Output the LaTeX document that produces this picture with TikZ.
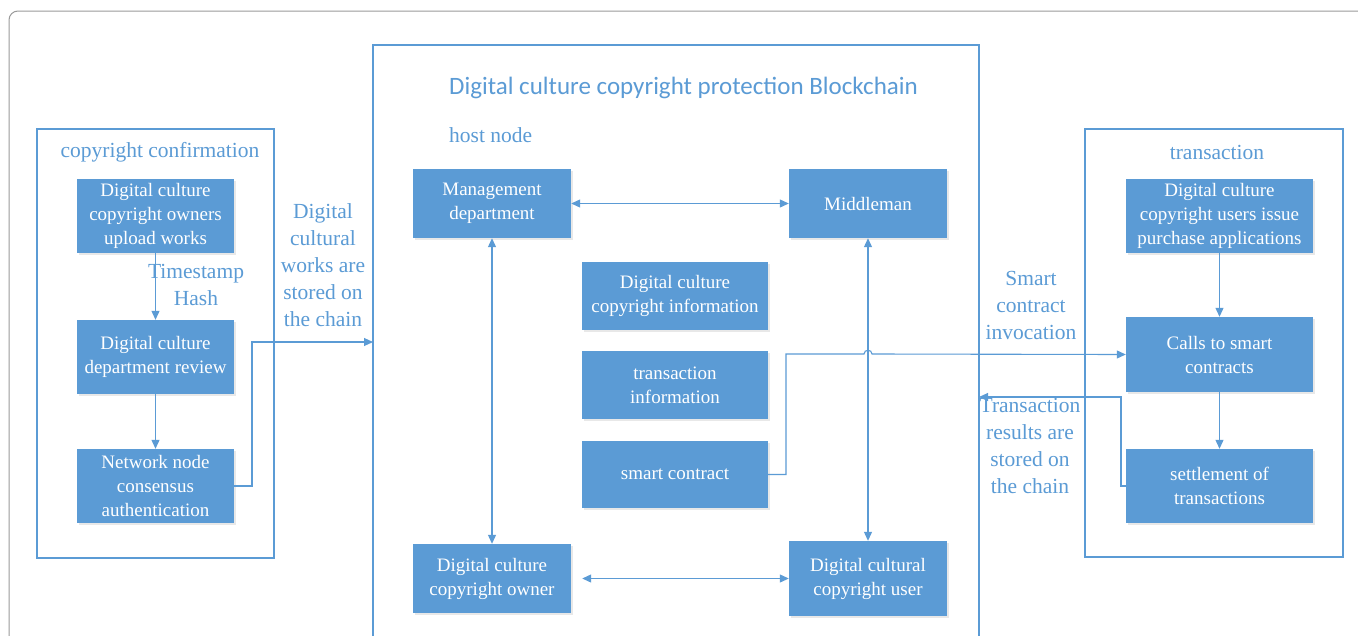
\documentclass[tikz,border=0pt]{standalone}
\usepackage{fontspec}
\setmainfont{Liberation Serif}
\newfontfamily\titlefont{Carlito}
\usetikzlibrary{arrows.meta,shadows}
\definecolor{boxblue}{HTML}{5B9BD5}
\definecolor{lineblue}{HTML}{5B9BD5}
\definecolor{labelblue}{HTML}{5B9BD5}
\definecolor{framegray}{HTML}{9A9A9A}
\tikzset{
  x=1pt, y=-1pt,
  stepbox/.style={fill=boxblue, draw=none, text=white, align=center, inner sep=0pt,
    font=\fontsize{19}{24}\selectfont,
    drop shadow={opacity=0.18, shadow xshift=1.5pt, shadow yshift=-2pt}},
  framebox/.style={draw=lineblue, line width=1.3pt, fill=none},
  lbl/.style={text=labelblue, align=center, inner sep=0pt, font=\fontsize{21.5}{27}\selectfont},
  arr/.style={draw=lineblue, line width=1.1pt, -{Triangle[length=9pt,width=8pt]}},
  darr/.style={draw=lineblue, line width=1.1pt, {Triangle[length=9pt,width=8pt]}-{Triangle[length=9pt,width=8pt]}},
}
\begin{document}
\begin{tikzpicture}
\useasboundingbox (0,0) rectangle (1358,635);
\clip (0,0) rectangle (1358,635);
\fill[white] (0,0) rectangle (1358,635);
% outer page frame
\draw[framegray, line width=1pt, rounded corners=9pt] (9,660) -- (9,11) -- (1380,11);

% frames
\node[framebox, minimum width=237pt, minimum height=429pt, inner sep=0pt] (lf) at (155.5,343.5) {};
\node[framebox, minimum width=606pt, minimum height=620pt, inner sep=0pt] (mainbox) at (676,355) {};
\node[framebox, minimum width=258pt, minimum height=428pt, inner sep=0pt] (rf) at (1214,343) {};

% left group
\node[lbl] (lft) at (160,152) {copyright confirmation};
\node[stepbox, minimum width=157pt, minimum height=74pt] (b1) at (155.5,216) {Digital culture\\copyright owners\\upload works};
\node[stepbox, minimum width=157pt, minimum height=74pt] (b2) at (155.5,357) {Digital culture\\department review};
\node[stepbox, minimum width=157pt, minimum height=74pt] (b3) at (155.5,486) {Network node\\consensus\\authentication};
\node[lbl] (ts) at (196,285) {Timestamp\\Hash};
\node[lbl] (lbA) at (323,265) {Digital\\cultural\\works are\\stored on\\the chain};

% main group
\node[text=labelblue, anchor=west, inner sep=0pt, font=\titlefont\fontsize{25}{30}\selectfont] (ttl) at (449,88) {Digital culture copyright protection Blockchain};
\node[lbl, anchor=west] (host) at (449,135) {host node};
\node[stepbox, minimum width=158pt, minimum height=69pt] (mg) at (492,203.5) {Management\\department};
\node[stepbox, minimum width=158pt, minimum height=69pt] (mid) at (868,203.5) {Middleman};
\node[stepbox, minimum width=186pt, minimum height=68pt] (info) at (675,296) {Digital culture\\copyright information};
\node[stepbox, minimum width=186pt, minimum height=68pt] (tinfo) at (675,385) {transaction\\information};
\node[stepbox, minimum width=186pt, minimum height=67pt] (sc) at (675,474.5) {smart contract};
\node[stepbox, minimum width=158pt, minimum height=69pt] (own) at (492,578.5) {Digital culture\\copyright owner};
\node[stepbox, minimum width=158pt, minimum height=75pt] (usr) at (868,578.5) {Digital cultural\\copyright user};

% right group
\node[lbl] (rft) at (1217,152) {transaction};
\node[stepbox, minimum width=187pt, minimum height=74pt] (ta) at (1219.5,216) {Digital culture\\copyright users issue\\purchase applications};
\node[stepbox, minimum width=187pt, minimum height=75pt] (tc) at (1219.5,354.5) {Calls to smart\\contracts};
\node[stepbox, minimum width=187pt, minimum height=74pt] (tst) at (1219.5,486) {settlement of\\transactions};
\node[lbl] (lbB) at (1031,305) {Smart\\contract\\invocation};
\node[lbl] (lbC) at (1030,446) {Transaction\\results are\\stored on\\the chain};

\coordinate (inA) at (373,342);
\coordinate (outB) at (979,397);

% connectors
\draw[arr] (b1) -- (b2);
\draw[arr] (b2) -- (b3);
\draw[arr] (b3.east) -- (252,486) -- (252,342) -- (inA);
\draw[darr] (mg) -- (mid);
\draw[darr] (mg) -- (own);
\draw[darr] (mid) -- (usr);
\draw[darr, shorten <=11pt] (own) -- (usr);
\draw[arr] (sc.east) -- (786,474.5) -- (786,354) -- (864,354) .. controls (864,349) and (872,349) .. (872,354) -- (tc.west);
\draw[arr] (tst.west) -- (1121,486) -- (1121,397) -- (outB);
\draw[arr] (ta) -- (tc);
\draw[arr] (tc) -- (tst);
\end{tikzpicture}
\end{document}
